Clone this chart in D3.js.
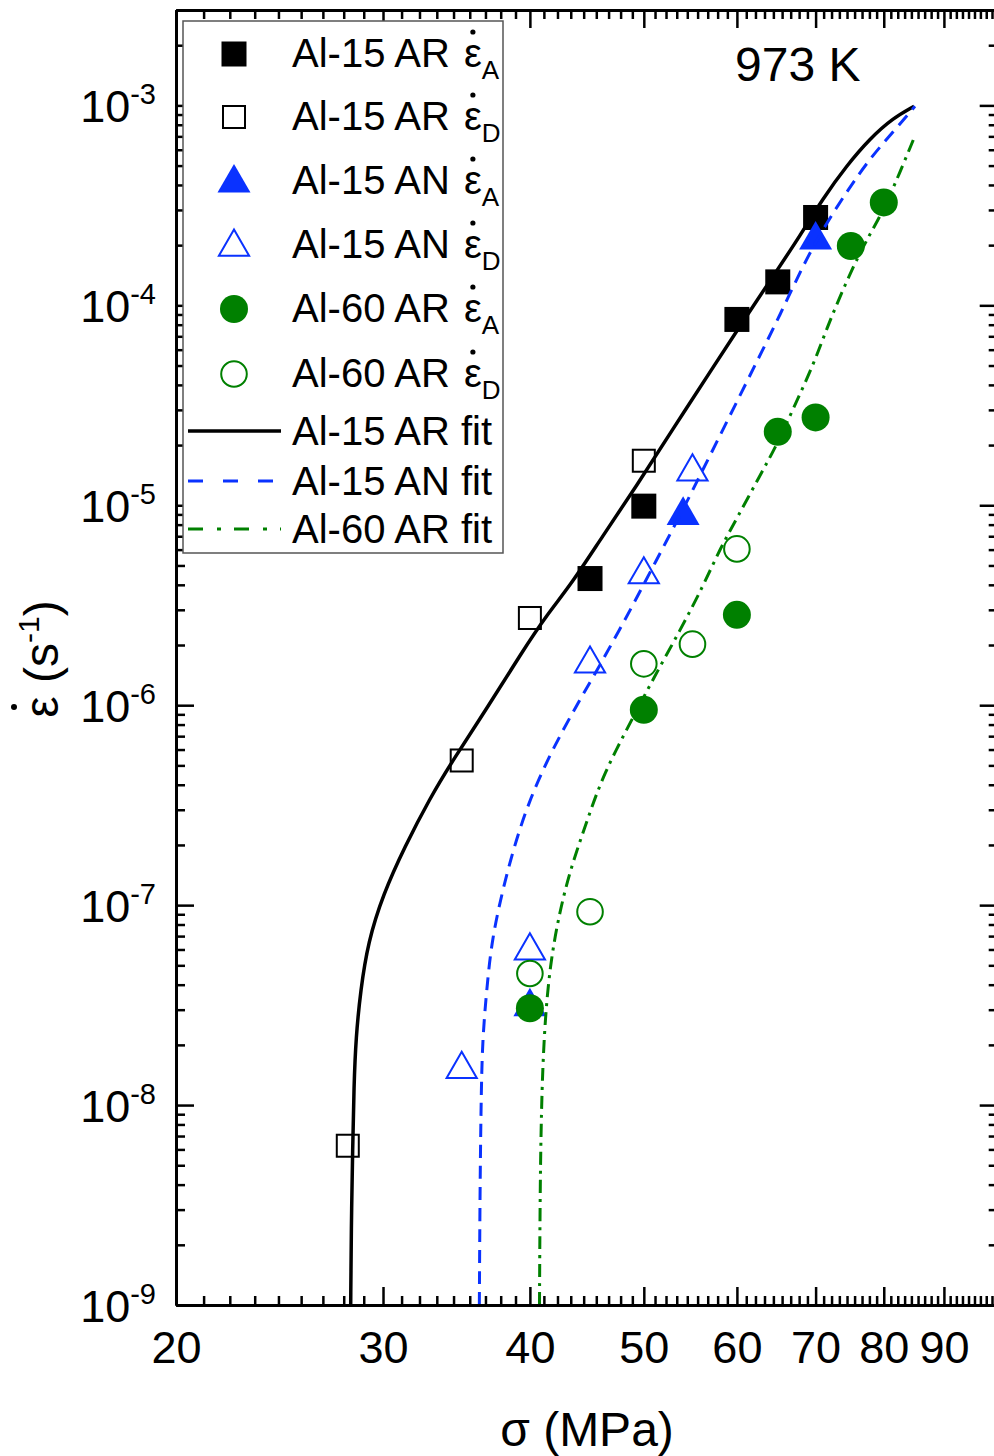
<!DOCTYPE html>
<html><head><meta charset="utf-8">
<script src="https://cdn.jsdelivr.net/npm/d3@7"></script>
<style>
html,body{margin:0;padding:0;background:#fff;}
svg{display:block;font-family:"Liberation Sans",Arial,Helvetica,sans-serif;}
</style></head><body>
<svg id="chart" width="994" height="1456"></svg>
<script>
// ---------- data ----------
const xMajorTicks = [20, 30, 40, 50, 60, 70, 80, 90, 100];
const xTickLabels = ["20", "30", "40", "50", "60", "70", "80", "90"];
const yDecadeExponents = [-9, -8, -7, -6, -5, -4, -3];
const yTickLabels = ["-9", "-8", "-7", "-6", "-5", "-4", "-3"];

const al15AR_A_stress = [45, 50, 60, 65, 70];
const al15AR_A_rate   = [4.3e-6, 9.9e-6, 8.5e-5, 1.31e-4, 2.75e-4];
const al15AR_D_stress = [28, 35, 40, 50];
const al15AR_D_rate   = [6.26e-9, 5.29e-7, 2.73e-6, 1.67e-5];
const al15AN_A_stress = [40, 54, 70];
const al15AN_A_rate   = [3.1e-8, 8.9e-6, 2.12e-4];
const al15AN_D_stress = [35, 40, 45, 50, 55];
const al15AN_D_rate   = [1.51e-8, 5.91e-8, 1.61e-6, 4.5e-6, 1.47e-5];
const al60AR_A_stress = [40, 50, 60, 65, 70, 75, 80];
const al60AR_A_rate   = [3.05e-8, 9.48e-7, 2.83e-6, 2.33e-5, 2.75e-5, 1.98e-4, 3.27e-4];
const al60AR_D_stress = [40, 45, 50, 55, 60];
const al60AR_D_rate   = [4.55e-8, 9.27e-8, 1.61e-6, 2.02e-6, 6.05e-6];

const fit15AR_stress = [28.16, 28.19, 28.27, 28.34, 28.45, 28.71, 29.13, 30.0, 31.32, 32.88, 34.40, 36.92, 39.23, 41.45, 43.28, 46.14, 49.30, 52.93, 56.95, 61.17, 64.88, 67.9, 71.0, 74.4, 77.9, 81.4, 84.9];
const fit15AR_rate   = [1e-9, 2.38e-9, 6.13e-9, 1.25e-8, 2.18e-8, 3.74e-8, 6.51e-8, 1.13e-7, 1.97e-7, 3.42e-7, 5.31e-7, 1.0e-6, 1.78e-6, 2.89e-6, 3.95e-6, 7.03e-6, 1.25e-5, 2.41e-5, 4.66e-5, 8.88e-5, 1.49e-4, 2.23e-4, 3.42e-4, 5.0e-4, 6.84e-4, 8.61e-4, 9.9e-4];
const fit15AN_stress = [36.23, 36.28, 36.37, 36.47, 36.75, 37.10, 37.84, 38.78, 40.01, 41.77, 43.96, 45.71, 48.86, 51.21, 53.67, 56.18, 59.19, 62.37, 65.27, 68.32, 71.05, 74.39, 77.86, 81.49, 85.04];
const fit15AN_rate   = [1e-9, 4.14e-9, 1.25e-8, 2.18e-8, 3.74e-8, 6.51e-8, 1.13e-7, 1.97e-7, 3.42e-7, 5.96e-7, 1.03e-6, 1.52e-6, 3.10e-6, 5.27e-6, 8.89e-6, 1.52e-5, 2.81e-5, 5.21e-5, 8.91e-5, 1.59e-4, 2.42e-4, 3.70e-4, 5.43e-4, 7.38e-4, 9.9e-4];
const fit60AR_stress = [40.76, 40.81, 40.95, 41.21, 41.61, 42.28, 43.26, 44.70, 46.18, 48.98, 50.94, 53.67, 56.18, 58.04, 59.97, 62.77, 64.85, 66.99, 69.67, 71.53, 73.89, 76.61, 79.41, 81.49, 84.87];
const fit60AR_rate   = [1e-9, 4.14e-9, 1.25e-8, 2.71e-8, 4.96e-8, 8.59e-8, 1.49e-7, 2.60e-7, 4.52e-7, 8.72e-7, 1.36e-6, 2.36e-6, 3.96e-6, 6.05e-6, 8.55e-6, 1.41e-5, 1.99e-5, 3.04e-5, 5.01e-5, 7.64e-5, 1.21e-4, 1.92e-4, 2.77e-4, 3.84e-4, 6.84e-4];

const legendNames = ["Al-15 AR", "Al-15 AR", "Al-15 AN", "Al-15 AN", "Al-60 AR", "Al-60 AR", "Al-15 AR fit", "Al-15 AN fit", "Al-60 AR fit"];
const legendSubs  = ["A", "D", "A", "D", "A", "D", null, null, null];

// ---------- setup ----------
const BLUE = "#0a32ff", GREEN = "#008000";
const FONT = "Liberation Sans, Arial, Helvetica, sans-serif";
const svg = d3.select("#chart");
const L = 176, R = 997.7, T = 10, B = 1305;
const x = d3.scaleLog().domain([20, 100]).range([L, R]);
const y = d3.scaleLog().domain([1e-9, 3e-3]).range([B, T]);

svg.append("defs").append("clipPath").attr("id", "plotclip")
  .append("rect").attr("x", L).attr("y", T).attr("width", R - L).attr("height", B - T);

const zip = (a, b) => a.map((v, i) => [v, b[i]]);

// ---------- markers ----------
const plot = svg.append("g").attr("clip-path", "url(#plotclip)");
const triFilled = d3.symbol().type(d3.symbolTriangle).size(471)();
const triOpen = d3.symbol().type(d3.symbolTriangle).size(395)();

function drawMarker(g, kind, cx, cy) {
  if (kind === "sqF") g.append("rect").attr("x", cx - 12.5).attr("y", cy - 12.5).attr("width", 25).attr("height", 25).attr("fill", "#000");
  if (kind === "sqO") g.append("rect").attr("x", cx - 11).attr("y", cy - 11).attr("width", 22).attr("height", 22).attr("fill", "none").attr("stroke", "#000").attr("stroke-width", 2);
  if (kind === "trF") g.append("path").attr("d", triFilled).attr("transform", `translate(${cx},${cy})`).attr("fill", BLUE);
  if (kind === "trO") g.append("path").attr("d", triOpen).attr("transform", `translate(${cx},${cy})`).attr("fill", "none").attr("stroke", BLUE).attr("stroke-width", 2);
  if (kind === "ciF") g.append("circle").attr("cx", cx).attr("cy", cy).attr("r", 14).attr("fill", GREEN);
  if (kind === "ciO") g.append("circle").attr("cx", cx).attr("cy", cy).attr("r", 12.8).attr("fill", "none").attr("stroke", GREEN).attr("stroke-width", 2);
}
const series = [
  ["sqF", al15AR_A_stress, al15AR_A_rate],
  ["sqO", al15AR_D_stress, al15AR_D_rate],
  ["trF", al15AN_A_stress, al15AN_A_rate],
  ["trO", al15AN_D_stress, al15AN_D_rate],
  ["ciF", al60AR_A_stress, al60AR_A_rate],
  ["ciO", al60AR_D_stress, al60AR_D_rate]
];
series.forEach(([kind, xs, ys]) => {
  zip(xs, ys).forEach(d => drawMarker(plot, kind, x(d[0]), y(d[1])));
});

// ---------- fit lines ----------
const line = d3.line().x(d => x(d[0])).y(d => y(d[1])).curve(d3.curveBasis);
plot.append("path").attr("d", line(zip(fit15AR_stress, fit15AR_rate))).attr("fill", "none").attr("stroke", "#000").attr("stroke-width", 3.5);
plot.append("path").attr("d", line(zip(fit15AN_stress, fit15AN_rate))).attr("fill", "none").attr("stroke", BLUE).attr("stroke-width", 3).attr("stroke-dasharray", "13,8");
plot.append("path").attr("d", line(zip(fit60AR_stress, fit60AR_rate))).attr("fill", "none").attr("stroke", GREEN).attr("stroke-width", 3).attr("stroke-dasharray", "13,6,3,6");

// ---------- axes ----------
const xMinor = [];
for (let i = 0; i < xMajorTicks.length - 1; i++) {
  const a = xMajorTicks[i], b = xMajorTicks[i + 1];
  for (let j = 1; j <= 8; j++) xMinor.push(a + (b - a) * j / 9);
}
const yMajor = yDecadeExponents.map(e => Math.pow(10, e));
const yMinor = [];
yDecadeExponents.forEach(e => { for (let k = 2; k <= 9; k++) { const v = k * Math.pow(10, e); if (v <= 3e-3 * 1.0001) yMinor.push(v); } });

function styleAxis(g) {
  g.select(".domain").attr("stroke", "#000").attr("stroke-width", 3);
  g.selectAll(".tick line").attr("stroke", "#000").attr("stroke-width", 2.5);
}
const axes = svg.append("g");
// bottom
axes.append("g").attr("transform", `translate(0,${B})`)
  .call(d3.axisBottom(x).tickValues(xMinor).tickSize(-9).tickSizeOuter(0).tickFormat(""))
  .call(styleAxis);
const xb = axes.append("g").attr("transform", `translate(0,${B})`)
  .call(d3.axisBottom(x).tickValues(xMajorTicks.slice(0, 8)).tickSize(-18).tickSizeOuter(0).tickPadding(26)
    .tickFormat((d, i) => xTickLabels[i]))
  .call(styleAxis);
xb.attr("font-size", null).attr("font-family", null);
xb.selectAll(".tick text").attr("fill", "#000").attr("font-size", 45).attr("font-family", FONT);
// top
axes.append("g").attr("transform", `translate(0,${T})`)
  .call(d3.axisTop(x).tickValues(xMinor).tickSize(-9).tickSizeOuter(0).tickFormat("")).call(styleAxis);
axes.append("g").attr("transform", `translate(0,${T})`)
  .call(d3.axisTop(x).tickValues(xMajorTicks).tickSize(-18).tickSizeOuter(0).tickFormat("")).call(styleAxis);
// left
axes.append("g").attr("transform", `translate(${L},0)`)
  .call(d3.axisLeft(y).tickValues(yMinor).tickSize(-9).tickSizeOuter(0).tickFormat("")).call(styleAxis);
axes.append("g").attr("transform", `translate(${L},0)`)
  .call(d3.axisLeft(y).tickValues(yMajor).tickSize(-18).tickSizeOuter(0).tickFormat("")).call(styleAxis);
// right
axes.append("g").attr("transform", `translate(${R},0)`)
  .call(d3.axisRight(y).tickValues(yMinor).tickSize(-9).tickSizeOuter(0).tickFormat("")).call(styleAxis);
axes.append("g").attr("transform", `translate(${R},0)`)
  .call(d3.axisRight(y).tickValues(yMajor).tickSize(-18).tickSizeOuter(0).tickFormat("")).call(styleAxis);

// y tick labels with superscripts
yMajor.forEach((v, i) => {
  const t = svg.append("text").attr("x", 156).attr("y", y(v) + 17).attr("text-anchor", "end").attr("fill", "#000");
  t.append("tspan").attr("font-size", 45).text("10");
  t.append("tspan").attr("font-size", 29).attr("dy", -18).text(yTickLabels[i]);
});

// axis titles
svg.append("text").attr("x", 587).attr("y", 1446).attr("text-anchor", "middle").attr("font-size", 48).text("σ (MPa)");
const yt = svg.append("g").attr("transform", "translate(58,659) rotate(-90)");
const ytText = yt.append("text").attr("x", 0).attr("y", 0).attr("text-anchor", "middle").attr("font-size", 48);
ytText.append("tspan").text("ε (s");
ytText.append("tspan").attr("font-size", 30).attr("dy", -19).text("-1");
ytText.append("tspan").attr("dy", 19).text(")");
{
  const ext = ytText.node().getExtentOfChar(0);
  yt.append("circle").attr("cx", ext.x + ext.width / 2).attr("cy", -44).attr("r", 3).attr("fill", "#000");
}

// temperature label
svg.append("text").attr("x", 735).attr("y", 81).attr("font-size", 48).text("973 K");

// ---------- legend ----------
const lg = svg.append("g");
lg.append("rect").attr("x", 183).attr("y", 21).attr("width", 320).attr("height", 532)
  .attr("fill", "#fff").attr("stroke", "#555").attr("stroke-width", 1.5);
const rowBase = [67, 130, 194, 258, 322, 387, 445, 495, 543];
const legendKinds = ["sqF", "sqO", "trF", "trO", "ciF", "ciO"];
legendNames.forEach((name, i) => {
  const b = rowBase[i];
  if (i < 6) {
    drawMarker(lg, legendKinds[i], 234, i === 2 || i === 3 ? b - 11 : b - 13);
  } else {
    const ln = lg.append("line").attr("x1", 188).attr("x2", 281).attr("y1", b - 14).attr("y2", b - 14).attr("stroke-width", 3);
    if (i === 6) ln.attr("stroke", "#000").attr("stroke-width", 3.5);
    if (i === 7) ln.attr("stroke", BLUE).attr("stroke-dasharray", "15,20");
    if (i === 8) ln.attr("stroke", GREEN).attr("stroke-dasharray", "15,14,4,13");
  }
  const t = lg.append("text").attr("x", 292).attr("y", b).attr("font-size", 40).attr("fill", "#000");
  t.append("tspan").text(legendSubs[i] ? name + " " : name);
  if (legendSubs[i]) {
    t.append("tspan").attr("dx", 3).text("ε");
    t.append("tspan").attr("font-size", 26).attr("dy", 12).text(legendSubs[i]);
    const ext = t.node().getExtentOfChar(name.length + 1);
    lg.append("circle").attr("cx", ext.x + ext.width / 2).attr("cy", b - 35).attr("r", 2.6).attr("fill", "#000");
  }
});
</script>
</body></html>
